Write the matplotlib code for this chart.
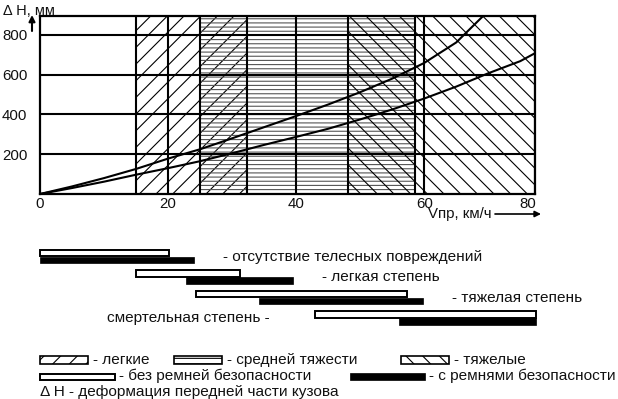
import matplotlib
matplotlib.use("Agg")
import matplotlib.pyplot as plt
from matplotlib.patches import Rectangle

plt.rcParams['font.family'] = ['Liberation Sans', 'DejaVu Sans']
plt.rcParams['hatch.linewidth'] = 0.8

# ---- data ----
x_max = 77.3
y_max = 895
y_ticks = [200, 400, 600, 800]
x_ticks = [0, 20, 40, 60]
x_end_label = '80'
x_grid = [20, 40, 60]

# injury zones (speed ranges, km/h)
zone_names = ['легкие', 'средней тяжести', 'тяжелые']
zone_start = [15, 25, 48.1]
zone_end = [32.3, 58.6, 77.3]
zone_hatch = ['//', '----', '\\\\']

# deformation curves
speed_upper = [0, 5, 10, 15, 20, 25, 30, 35, 40, 45, 50, 55, 60, 65, 69.2]
defo_upper = [0, 38, 80, 126, 178, 225, 280, 336, 392, 450, 512, 580, 659, 762, 895]
speed_lower = [0, 5, 10, 15, 20, 25, 30, 35, 40, 45, 50, 55, 60, 65, 70, 75, 77.3]
defo_lower = [0, 30, 62, 97, 130, 165, 205, 247, 287, 328, 375, 425, 480, 540, 607, 668, 708]

# injury-severity speed ranges
severity = ['- отсутствие телесных повреждений', '- легкая степень',
            '- тяжелая степень', 'смертельная степень -']
nobelt_start = [0, 15, 24.4, 43]
nobelt_end = [20.2, 31.3, 57.3, 77.5]
belt_start = [0, 22.8, 34.2, 56.1]
belt_end = [24, 39.5, 59.8, 77.5]

W, H = 618, 399
fig = plt.figure(figsize=(W / 100, H / 100), dpi=100)
txt_kw = dict(fontsize=11.1, color='#111111')

# ---- main chart ----
ax = fig.add_axes([40 / W, 1 - 194 / H, 495 / W, 178 / H])
ax.set_xlim(0, x_max)
ax.set_ylim(0, y_max)
for s, e, h in zip(zone_start, zone_end, zone_hatch):
    col = '#555555' if h.startswith('-') else 'black'
    ax.axvspan(s, e, facecolor='none', edgecolor=col, lw=0, hatch=h, zorder=1)
for s, e in zip(zone_start, zone_end):
    for v in (s, e):
        ax.axvline(v, color='black', lw=1.5, zorder=2)
for v in x_grid:
    ax.axvline(v, color='black', lw=1.5, zorder=2)
for v in y_ticks:
    ax.axhline(v, color='black', lw=1.5, zorder=2)
ax.plot(speed_upper, defo_upper, color='black', lw=1.5, zorder=3)
ax.plot(speed_lower, defo_lower, color='black', lw=1.5, zorder=3)
for sp in ax.spines.values():
    sp.set_linewidth(1.6)
ax.set_xticks(x_ticks)
ax.set_yticks(y_ticks)
ax.tick_params(length=0, labelsize=10.8, labelcolor='#111111')
ax.tick_params(axis='y', pad=9)
ax.tick_params(axis='x', pad=2)
ax.text(0.985, -0.017, x_end_label, transform=ax.transAxes, ha='center', va='top',
        fontsize=10.8, color='#111111')

# ---- severity bars ----
ax2 = fig.add_axes([40 / W, 1 - 330.3 / H, 495 / W, 86.1 / H])
ax2.set_xlim(0, x_max)
ax2.set_ylim(3.6, -0.6)
ax2.axis('off')
rows = list(range(len(severity)))
ax2.barh([r - 0.17 for r in rows], [e - s for s, e in zip(nobelt_start, nobelt_end)],
         left=nobelt_start, height=0.3, facecolor='white', edgecolor='black',
         lw=1.4, clip_on=False)
ax2.barh([r + 0.17 for r in rows], [e - s for s, e in zip(belt_start, belt_end)],
         left=belt_start, height=0.34, facecolor='black', edgecolor='black',
         lw=0.5, clip_on=False)
label_x = [28.6, 44.1, 64.4, 35.9]
label_ha = ['left', 'left', 'left', 'right']
for r, t, lx, ha in zip(rows, severity, label_x, label_ha):
    ax2.text(lx, r, t, ha=ha, va='center', clip_on=False, **txt_kw)

# ---- overlay: axis titles, arrows, legend (pixel coordinates) ----
ov = fig.add_axes([0, 0, 1, 1], facecolor='none')
ov.set_xlim(0, W)
ov.set_ylim(H, 0)
ov.axis('off')
ov.text(3, 11, 'Δ H, мм', ha='left', va='center', fontsize=10.5, color='#111111')
ov.annotate('', xy=(32, 15), xytext=(32, 31),
            arrowprops=dict(arrowstyle='-|>', color='black', lw=1.5,
                            mutation_scale=9, shrinkA=0, shrinkB=0))
ov.text(428, 214, 'Vпр, км/ч', ha='left', va='center', fontsize=10.8, color='#111111')
ov.annotate('', xy=(541, 214), xytext=(495, 214),
            arrowprops=dict(arrowstyle='-|>', color='black', lw=1.2,
                            mutation_scale=9, shrinkA=0, shrinkB=0))

leg_x = [40, 174, 401]
leg_w = 48
for lx, nm, h in zip(leg_x, zone_names, zone_hatch):
    hh = '---' if h.startswith('-') else h
    ov.add_patch(Rectangle((lx, 356), leg_w, 8, facecolor='white', edgecolor='black',
                           lw=1.2, hatch=hh))
    ov.text(lx + leg_w + 5, 360, '- ' + nm, ha='left', va='center', **txt_kw)

ov.add_patch(Rectangle((40, 373.5), 75, 6, facecolor='white', edgecolor='black', lw=1.4))
ov.text(119, 376, '- без ремней безопасности', ha='left', va='center', **txt_kw)
ov.add_patch(Rectangle((350, 372.5), 75, 7, facecolor='black', edgecolor='black', lw=0.5))
ov.text(429, 376, '- с ремнями безопасности', ha='left', va='center', **txt_kw)
ov.text(40, 392, 'Δ H - деформация передней части кузова', ha='left', va='center', **txt_kw)

fig.savefig('out.png', dpi=100, facecolor='white')
